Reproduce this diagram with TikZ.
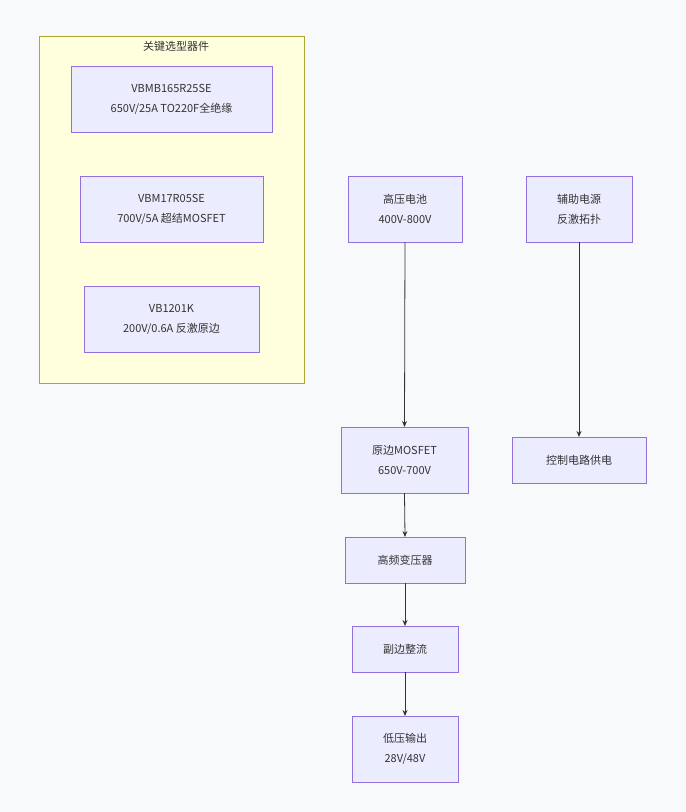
\documentclass[tikz,border=0pt]{standalone}
\usepackage{fontspec}
\setmainfont{Noto Sans CJK SC}
\usetikzlibrary{arrows.meta}
\definecolor{bg}{HTML}{F8F9FB}
\definecolor{nf}{HTML}{ECECFF}
\definecolor{nd}{HTML}{9370DB}
\definecolor{sf}{HTML}{FFFFDE}
\definecolor{sd}{HTML}{AAAA33}
\definecolor{ln}{HTML}{333333}
\begin{document}
\begin{tikzpicture}[x=1pt,y=-1pt,
  box/.style={draw=nd,fill=nf,line width=0.8pt},
  lab/.style={font=\fontsize{11}{20}\selectfont,text=ln,align=center},
  arr/.style={draw=ln,line width=0.8pt,-{Stealth[length=6pt,width=5pt]}}]
\fill[bg] (0,0) rectangle (686,812);
\useasboundingbox (0,0) rectangle (686,812);
\draw[draw=sd,fill=sf,line width=0.8pt] (39,36) rectangle (304,383);
\node[lab] (t) at (176,46) {关键选型器件};
\newcommand{\bx}[6]{\draw[box] (#2,#3) rectangle (#4,#5); \node[lab] (#1) at ({(#2+#4)/2},{(#3+#5)/2}) {#6};
 \coordinate (#1t) at ({(#2+#4)/2},#3); \coordinate (#1b) at ({(#2+#4)/2},#5);}
\bx{a}{71}{66}{272}{132}{VBMB165R25SE\\650V/25A TO220F全绝缘}
\bx{b}{80}{176}{263}{242}{VBM17R05SE\\700V/5A 超结MOSFET}
\bx{c}{84}{286}{259}{352}{VB1201K\\200V/0.6A 反激原边}
\bx{hv}{348}{176}{462}{242}{高压电池\\400V-800V}
\bx{aux}{526}{176}{632}{242}{辅助电源\\反激拓扑}
\bx{pm}{341}{427}{468}{493}{原边MOSFET\\650V-700V}
\bx{ctl}{512}{437}{646}{483}{控制电路供电}
\bx{tr}{345}{537}{465}{583}{高频变压器}
\bx{rec}{352}{626}{458}{672}{副边整流}
\bx{out}{352}{716}{458}{782}{低压输出\\28V/48V}
\draw[arr] (hvb) -- (pmt);
\draw[arr] (auxb) -- (ctlt);
\draw[arr] (pmb) -- (trt);
\draw[arr] (trb) -- (rect);
\draw[arr] (recb) -- (outt);
\end{tikzpicture}
\end{document}
